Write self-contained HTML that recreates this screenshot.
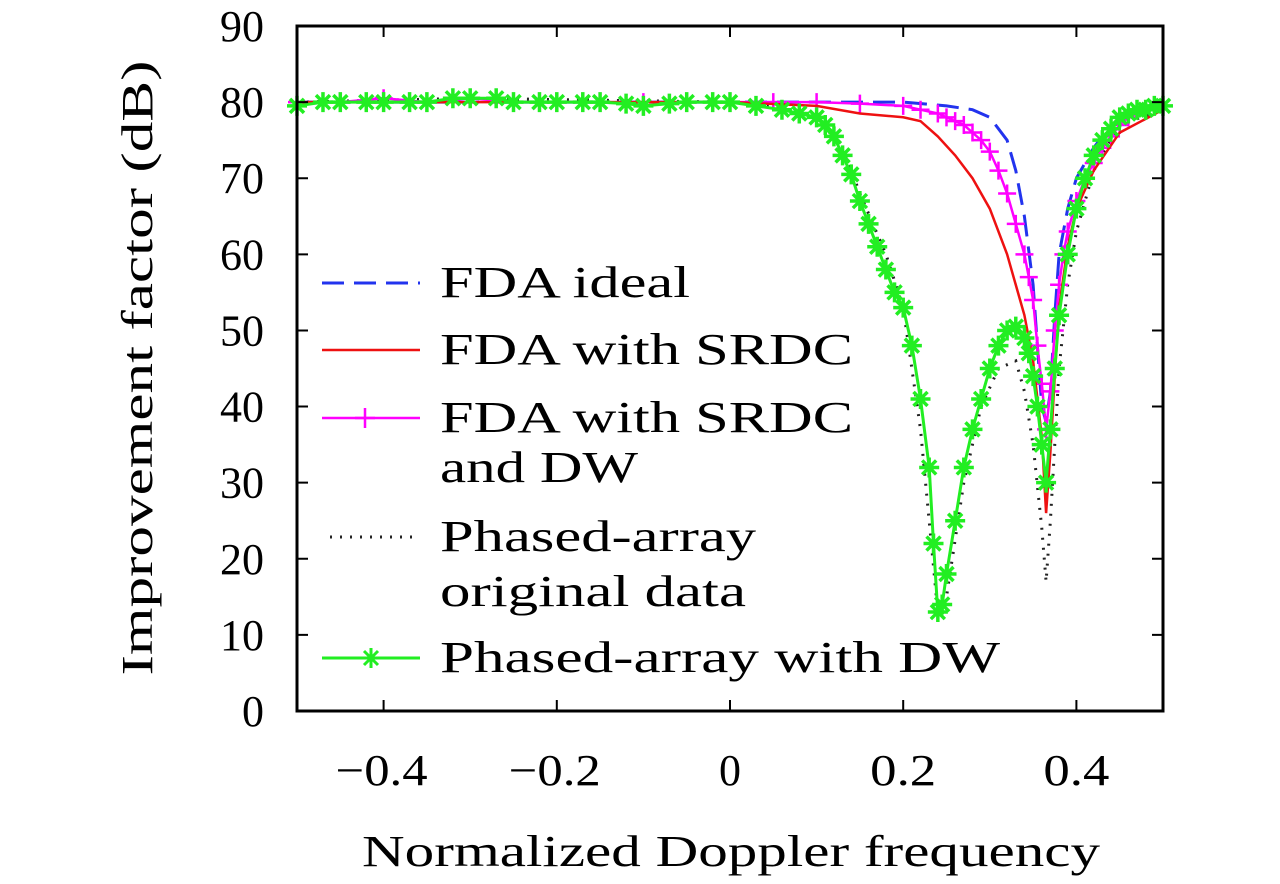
<!DOCTYPE html>
<html><head><meta charset="utf-8"><style>
body{margin:0;background:#fff;}
svg text{font-family:"Liberation Serif",serif;fill:#000;}
</style></head><body>
<svg id="chart" width="1280" height="879" xmlns="http://www.w3.org/2000/svg">
<g id="marks"></g>
<rect x="297" y="26" width="866" height="685" fill="none" stroke="#000" stroke-width="3"/>
<g id="ticks"></g>
<text transform="translate(152,368) rotate(-90)" text-anchor="middle" font-size="44" textLength="615" lengthAdjust="spacingAndGlyphs">Improvement factor (dB)</text>
<text x="731" y="866" text-anchor="middle" font-size="44" textLength="738" lengthAdjust="spacingAndGlyphs">Normalized Doppler frequency</text>
<g id="legend">
<line x1="322" y1="283" x2="420" y2="283" stroke="#2233ee" stroke-width="3" stroke-dasharray="22,10"/>
<text x="440" y="297" font-size="44" textLength="250" lengthAdjust="spacingAndGlyphs">FDA ideal</text>
<line x1="322" y1="350" x2="420" y2="350" stroke="#ee1111" stroke-width="2.5"/>
<text x="440" y="364" font-size="44" textLength="413" lengthAdjust="spacingAndGlyphs">FDA with SRDC</text>
<line x1="322" y1="418" x2="420" y2="418" stroke="#ff00ff" stroke-width="2.5"/>
<path d="M365 408 V428 M355 418 H375" stroke="#ff00ff" stroke-width="2.5"/>
<text x="440" y="432" font-size="44" textLength="413" lengthAdjust="spacingAndGlyphs">FDA with SRDC</text>
<text x="440" y="482" font-size="44" textLength="198" lengthAdjust="spacingAndGlyphs">and DW</text>
<line x1="330" y1="537" x2="420" y2="537" stroke="#222" stroke-width="3" stroke-dasharray="2,8"/>
<text x="440" y="551" font-size="44" textLength="316" lengthAdjust="spacingAndGlyphs">Phased-array</text>
<text x="440" y="606" font-size="44" textLength="306" lengthAdjust="spacingAndGlyphs">original data</text>
<line x1="322" y1="658" x2="420" y2="658" stroke="#22ee22" stroke-width="3"/>
<path d="M371 648 V668 M361 658 H381 M364 651 L378 665 M378 651 L364 665" stroke="#22ee22" stroke-width="3"/>
<text x="440" y="672" font-size="44" textLength="560" lengthAdjust="spacingAndGlyphs">Phased-array with DW</text>
</g>
</svg>
<script>
const xTicks=[-0.4,-0.2,0,0.2,0.4];
const xTickLabels=["\u22120.4","\u22120.2","0","0.2","0.4"];
const yTicks=[0,10,20,30,40,50,60,70,80,90];
const blueX=[-0.5,-0.3,0,0.2,0.25,0.28,0.3,0.32,0.33,0.34,0.35,0.355,0.36,0.365,0.37,0.375,0.38,0.39,0.4,0.42,0.44,0.47,0.5];
const blueY=[80,80,80,80,79.5,79,78,75,71,65,56,48,40,38,42,52,60,66,70,74,77,79,80];
const redX=[-0.5,-0.3,0,0.1,0.15,0.2,0.22,0.24,0.26,0.28,0.3,0.32,0.34,0.35,0.36,0.365,0.37,0.375,0.38,0.39,0.4,0.42,0.45,0.5];
const redY=[80,80,80,79.5,78.5,78,77.5,75.5,73,70,66,60,52,46,36,26,34,44,53,61,66,71,76,79];
const magX=[-0.5,-0.45,-0.4,-0.35,-0.3,-0.25,-0.2,-0.15,-0.1,-0.05,0,0.05,0.1,0.15,0.2,0.22,0.24,0.25,0.26,0.27,0.28,0.29,0.3,0.31,0.32,0.33,0.34,0.345,0.35,0.355,0.36,0.365,0.37,0.375,0.38,0.385,0.39,0.4,0.41,0.42,0.43,0.44,0.45,0.46,0.48,0.5];
const magY=[80,80,80.5,80,80.5,80,80,80,80,80,80,80,80,79.8,79.5,79,78.5,78,77.5,77,76,75,73.5,71,68,64,60,57,54,48,43,37,42,50,56,60,63,67,70,72,74,75.5,77,78,79,79.5];
const blackX=[-0.5,-0.3,0,0.05,0.1,0.13,0.15,0.18,0.2,0.22,0.24,0.25,0.27,0.29,0.31,0.33,0.34,0.35,0.36,0.365,0.37,0.38,0.39,0.4,0.42,0.45,0.5];
const blackY=[80,80.5,80,79.5,78,74,68,60,53,37,13,15,30,40,45,46,42,35,24,17,25,45,56,63,71,77,79];
const greenX=[-0.5,-0.47,-0.45,-0.42,-0.4,-0.37,-0.35,-0.32,-0.3,-0.27,-0.25,-0.22,-0.2,-0.17,-0.15,-0.12,-0.1,-0.07,-0.05,-0.02,0,0.03,0.06,0.08,0.1,0.11,0.12,0.13,0.14,0.15,0.16,0.17,0.18,0.19,0.2,0.21,0.22,0.23,0.235,0.24,0.245,0.25,0.26,0.27,0.28,0.29,0.3,0.31,0.32,0.33,0.34,0.345,0.35,0.355,0.36,0.365,0.37,0.375,0.38,0.39,0.4,0.41,0.42,0.43,0.44,0.45,0.46,0.47,0.48,0.49,0.5];
const greenY=[79.5,80,80,80,80,80,80,80.5,80.5,80.5,80,80,80,80,80,79.8,79.5,79.8,80,80,80,79.5,79,78.5,78,77,75.5,73,70.5,67,64,61,58,55,53,48,41,32,22,13,14,18,25,32,37,41,45,48,50,50.5,49,47,44,40,35,30,37,45,52,60,66,70,73,75,76.5,78,78.5,79,79,79.5,79.5];
const X=v=>297+(v+0.5)*866, Y=v=>711-v*685/90;
const NS="http://www.w3.org/2000/svg";
const marks=document.getElementById('marks'), ticks=document.getElementById('ticks');
function mk(tag,attrs,parent){const e=document.createElementNS(NS,tag);for(const k in attrs)e.setAttribute(k,attrs[k]);parent.appendChild(e);return e;}
function pts(xs,ys){return xs.map((x,i)=>X(x).toFixed(1)+','+Y(ys[i]).toFixed(1)).join(' ');}
xTicks.forEach((t,i)=>{
  const l=mk('path',{d:`M${X(t)} 711 v-11 M${X(t)} 26 v11`,stroke:'#000','stroke-width':2},ticks);
  
  
  const opts={x:X(t)-(t<0?2:0),y:785,'text-anchor':'middle','font-size':44};
  if(xTickLabels[i].length>1){opts.textLength=(t<0?92:66);opts.lengthAdjust='spacingAndGlyphs';}
  const tx=mk('text',opts,ticks);
  tx.textContent=xTickLabels[i];
  
  
});
yTicks.forEach(t=>{
  const l=mk('path',{d:`M297 ${Y(t)} h11 M1163 ${Y(t)} h-11`,stroke:'#000','stroke-width':2},ticks);
  
  
  const tx=mk('text',{x:264,y:Y(t)+15,'text-anchor':'end','font-size':44},ticks);
  tx.textContent=t;
  
  
});
const pb=mk('polyline',{points:pts(blackX,blackY),fill:'none',stroke:'#222','stroke-width':3,'stroke-dasharray':'2,8'},marks);


const pbl=mk('polyline',{points:pts(blueX,blueY),fill:'none',stroke:'#2233ee','stroke-width':3,'stroke-dasharray':'22,10'},marks);


const pm=mk('polyline',{points:pts(magX,magY),fill:'none',stroke:'#ff00ff','stroke-width':2.5},marks);


magX.forEach((x,i)=>{const p=mk('path',{d:`M${X(x)} ${Y(magY[i])-9} v18 M${X(x)-9} ${Y(magY[i])} h18`,stroke:'#ff00ff','stroke-width':2.5},marks);
  
  });
const pr=mk('polyline',{points:pts(redX,redY),fill:'none',stroke:'#ee1111','stroke-width':2.5},marks);


const pg=mk('polyline',{points:pts(greenX,greenY),fill:'none',stroke:'#22ee22','stroke-width':3},marks);


greenX.forEach((x,i)=>{const cx=X(x),cy=Y(greenY[i]);
  const p=mk('path',{d:`M${cx} ${cy-10} v20 M${cx-10} ${cy} h20 M${cx-7} ${cy-7} l14 14 M${cx+7} ${cy-7} l-14 14`,stroke:'#22ee22','stroke-width':3.5},marks);
  
  });
</script>
</body></html>
